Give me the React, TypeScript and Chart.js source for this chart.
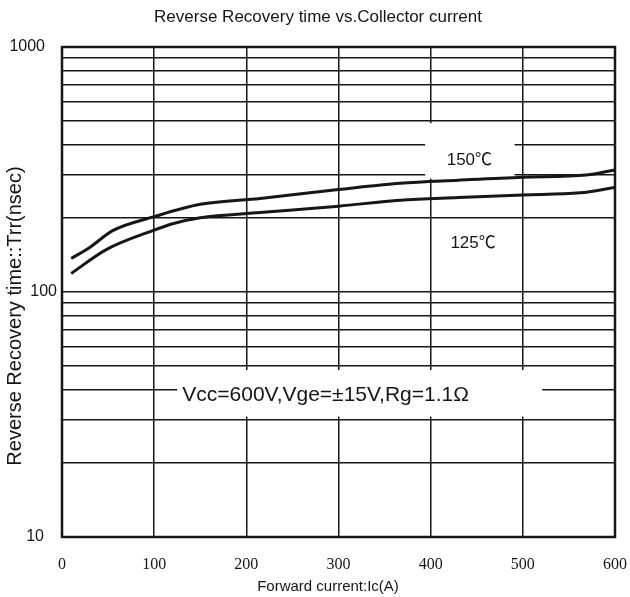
import React, { useEffect, useRef } from "react";
import { Chart, registerables } from "chart.js";

Chart.register(...registerables);

const chartTitle = "Reverse Recovery time vs.Collector current";
const xAxisTitle = "Forward current:Ic(A)";
const yAxisTitle = "Reverse Recovery time::Trr(nsec)";

const xTickValues = [0, 100, 200, 300, 400, 500, 600];
const yGridValues = [10, 20, 30, 40, 50, 60, 70, 80, 90, 100, 200, 300, 400, 500, 600, 700, 800, 900, 1000];
const yLabelValues = [10, 100, 1000];
const yLabelRight = [44, 57, 45];

const current150 = [10, 30, 55, 100, 150, 215, 300, 367, 430, 500, 569, 600];
const trr150 = [137, 152, 178, 203, 228, 241, 262, 278, 286, 294, 300, 315];

const current125 = [10, 48, 100, 120, 150, 215, 300, 367, 430, 500, 562, 600];
const trr125 = [119, 149, 179, 190, 201, 211, 224, 237, 243, 249, 254, 267];

// annotation texts (anchored in data units), optional white box [x0, x1, y0, y1]
const noteTexts = ["150℃", "125℃", "Vcc=600V,Vge=±15V,Rg=1.1Ω"];
const noteX = [442, 446, 286];
const noteY = [346, 158, 38];
const noteSizes = [17, 17, 21];
const noteBoxes: (number[] | null)[] = [[394, 491, 290, 489], null, [125, 521, 31, 48]];

const SANS = "'Liberation Sans', Arial, 'Noto Sans CJK SC', sans-serif";
const SERIF = "'Liberation Serif', 'Times New Roman', serif";
const INK = "#161616";

const decorPlugin = {
  id: "decor",
  beforeDatasetsDraw(chart: any) {
    const { ctx, scales } = chart;
    const xs = scales.x;
    const ys = scales.y;
    ctx.save();
    ctx.fillStyle = "#ffffff";
    noteBoxes.forEach((b) => {
      if (!b) return;
      const x0 = xs.getPixelForValue(b[0]);
      const x1 = xs.getPixelForValue(b[1]);
      const y0 = ys.getPixelForValue(b[2]);
      const y1 = ys.getPixelForValue(b[3]);
      ctx.fillRect(x0, y1, x1 - x0, y0 - y1);
    });
    ctx.restore();
  },
  afterDatasetsDraw(chart: any) {
    const { ctx, chartArea, scales } = chart;
    const xs = scales.x;
    const ys = scales.y;
    ctx.save();
    // frame
    ctx.strokeStyle = INK;
    ctx.lineWidth = 2.5;
    ctx.strokeRect(chartArea.left, chartArea.top, chartArea.right - chartArea.left, chartArea.bottom - chartArea.top);
    // notes
    ctx.fillStyle = INK;
    ctx.textAlign = "center";
    ctx.textBaseline = "middle";
    noteTexts.forEach((t, i) => {
      ctx.font = noteSizes[i] + "px " + SANS;
      ctx.fillText(t, xs.getPixelForValue(noteX[i]), ys.getPixelForValue(noteY[i]));
    });
    ctx.restore();
  },
  afterDraw(chart: any) {
    const { ctx, scales } = chart;
    const ys = scales.y;
    ctx.save();
    ctx.fillStyle = INK;
    ctx.textBaseline = "middle";
    // y tick labels
    ctx.textAlign = "right";
    ctx.font = "16px " + SANS;
    yLabelValues.forEach((v, i) => {
      ctx.fillText(String(v), yLabelRight[i], ys.getPixelForValue(v));
    });
    ctx.textAlign = "center";
    ctx.font = "17px " + SANS;
    ctx.fillText(chartTitle, 318, 17);
    ctx.font = "15px " + SANS;
    ctx.fillText(xAxisTitle, 328, 587);
    ctx.translate(15, 316);
    ctx.rotate(-Math.PI / 2);
    ctx.font = "20px " + SANS;
    ctx.fillText(yAxisTitle, 0, 0);
    ctx.restore();
  },
};

export default function App() {
  const ref = useRef<HTMLCanvasElement>(null);
  useEffect(() => {
    if (!ref.current) return;
    const chart = new Chart(ref.current, {
      type: "line",
      data: {
        datasets: [
          {
            label: "150℃",
            data: current150.map((x, i) => ({ x, y: trr150[i] })),
            borderColor: INK,
            borderWidth: 3,
            pointRadius: 0,
            cubicInterpolationMode: "monotone",
            fill: false,
          },
          {
            label: "125℃",
            data: current125.map((x, i) => ({ x, y: trr125[i] })),
            borderColor: INK,
            borderWidth: 3,
            pointRadius: 0,
            cubicInterpolationMode: "monotone",
            fill: false,
          },
        ],
      },
      options: {
        responsive: false,
        animation: false,
        layout: { padding: { top: 47, right: 15, bottom: 0, left: 0 } },
        plugins: { legend: { display: false }, title: { display: false }, tooltip: { enabled: false } },
        scales: {
          x: {
            type: "linear",
            min: 0,
            max: 600,
            afterBuildTicks: (s: any) => {
              s.ticks = xTickValues.map((v) => ({ value: v }));
            },
            afterFit: (s: any) => {
              s.height = 60;
              s.paddingLeft = 0;
              s.paddingRight = 0;
            },
            grid: { color: INK, lineWidth: 1.5, drawTicks: false },
            border: { display: false },
            ticks: {
              autoSkip: false,
              maxRotation: 0,
              padding: 18,
              color: INK,
              font: { family: SERIF, size: 16 },
            },
          },
          y: {
            type: "logarithmic",
            min: 10,
            max: 1000,
            afterBuildTicks: (s: any) => {
              s.ticks = yGridValues.map((v) => ({ value: v }));
            },
            afterFit: (s: any) => {
              s.width = 62;
              s.paddingTop = 0;
              s.paddingBottom = 0;
            },
            grid: { color: INK, lineWidth: 1.5, drawTicks: false },
            border: { display: false },
            ticks: {
              autoSkip: false,
              padding: 12,
              color: "rgba(0,0,0,0)",
              font: { family: SANS, size: 16 },
              callback: () => "",
            },
          },
        },
      },
      plugins: [decorPlugin],
    });
    return () => chart.destroy();
  }, []);
  return (
    <canvas
      ref={ref}
      width={630}
      height={597}
      style={{ position: "fixed", left: 0, top: 0, background: "#fff" }}
    />
  );
}
